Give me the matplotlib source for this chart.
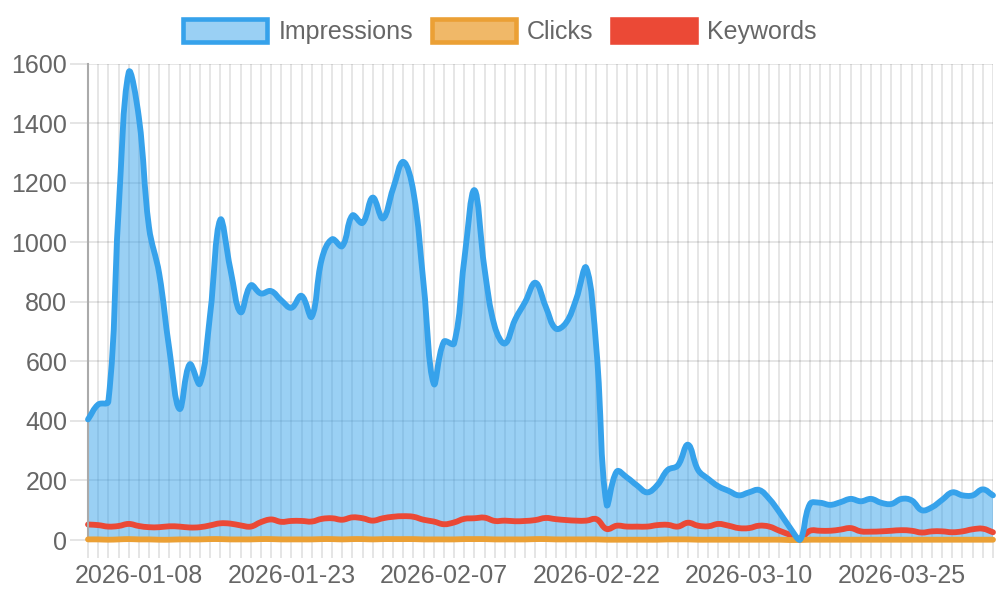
import numpy as np
import pandas as pd
import matplotlib
matplotlib.use('Agg')
import matplotlib.pyplot as plt
from matplotlib.path import Path
from matplotlib.patches import PathPatch, Patch

plt.rcParams['font.family'] = ['Liberation Sans', 'DejaVu Sans']

# one day is missing between 02-22 and 03-10 in the source data
dates = pd.date_range('2026-01-03', '2026-04-03').drop(pd.Timestamp('2026-03-01'))
date_labels = [d.strftime('%Y-%m-%d') for d in dates]

impressions = [405, 455, 465, 1100, 1570, 1420, 1050, 895, 640, 440,
               590, 525, 755, 1075, 910, 765, 855, 828, 836, 805,
               780, 820, 750, 945, 1010, 987, 1090, 1065, 1150, 1080,
               1180, 1270, 1170, 860, 525, 666, 660, 940, 1175, 910,
               717, 660, 740, 800, 864, 785, 710, 729, 808, 914,
               640, 120, 230, 210, 183, 160, 185, 235, 250, 320,
               235, 205, 180, 165, 150, 160, 168, 138, 93, 43,
               0, 121, 125, 118, 127, 138, 130, 138, 125, 121,
               138, 133, 100, 110, 135, 160, 150, 150, 170, 150]

clicks = [2, 2, 1, 2, 3, 2, 2, 1, 1, 2,
          2, 2, 3, 3, 2, 2, 2, 3, 3, 2,
          2, 2, 2, 3, 3, 2, 3, 3, 2, 3,
          3, 3, 3, 2, 2, 2, 2, 3, 3, 3,
          2, 2, 2, 2, 3, 3, 2, 2, 2, 2,
          2, 1, 1, 1, 1, 1, 1, 2, 2, 2,
          1, 1, 1, 1, 1, 1, 1, 1, 1, 0,
          0, 1, 1, 1, 1, 1, 1, 1, 1, 1,
          1, 1, 1, 1, 1, 1, 1, 1, 1, 1]

keywords = [52, 50, 45, 47, 54, 47, 43, 43, 46, 45,
            42, 43, 49, 56, 55, 49, 45, 60, 69, 61,
            64, 64, 62, 71, 73, 68, 76, 73, 65, 73,
            78, 80, 78, 68, 62, 53, 59, 71, 73, 75,
            64, 65, 63, 64, 67, 74, 70, 67, 65, 65,
            70, 37, 48, 45, 45, 45, 50, 51, 45, 58,
            48, 46, 54, 48, 40, 40, 48, 45, 31, 18,
            5, 31, 31, 31, 35, 40, 29, 28, 29, 31,
            33, 31, 25, 29, 29, 26, 29, 36, 38, 26]

blue = '#36A2EB'
orange = '#EBA035'
red = '#EB4936'
text_grey = '#666666'

fig = plt.figure(figsize=(10, 6), dpi=100)
ax = fig.add_axes([0.088, 0.1, 0.905, 0.794])
xs = np.arange(len(dates))
ax.set_xlim(0, len(dates) - 1)
ax.set_ylim(0, 1600)


def spline_path(xvals, yvals, t=0.4):
    # chart.js style bezier smoothing, done in pixel space
    pts = ax.transData.transform(np.column_stack([xvals, yvals]).astype(float))
    lo = ax.transData.transform((0, 0))
    hi = ax.transData.transform((len(dates) - 1, 1600))
    n = len(pts)
    cp_prev, cp_next = [], []
    for i in range(n):
        prev = pts[i - 1] if i > 0 else pts[i]
        cur = pts[i]
        nxt = pts[i + 1] if i < n - 1 else pts[i]
        d01 = np.hypot(*(cur - prev))
        d12 = np.hypot(*(nxt - cur))
        tot = d01 + d12
        s01 = d01 / tot if tot else 0
        s12 = d12 / tot if tot else 0
        a = np.clip(cur - t * s01 * (nxt - prev), lo, hi)
        b = np.clip(cur + t * s12 * (nxt - prev), lo, hi)
        cp_prev.append(a)
        cp_next.append(b)
    verts = [pts[0]]
    codes = [Path.MOVETO]
    for i in range(1, n):
        verts += [cp_next[i - 1], cp_prev[i], pts[i]]
        codes += [Path.CURVE4] * 3
    verts = ax.transData.inverted().transform(np.array(verts))
    return verts, codes


# grid
ax.set_yticks(range(0, 1601, 200))
ax.set_xticks(xs)
ax.set_xticklabels([lab if (i - 5) % 15 == 0 else '' for i, lab in enumerate(date_labels)])
ax.grid(True, color='black', alpha=0.1, lw=1.4)
ax.set_axisbelow(True)
ax.axhline(0, color='black', alpha=0.25, lw=1.4, zorder=0.5)
for s in ['top', 'right']:
    ax.spines[s].set_visible(False)
ax.spines['left'].set_color('#aaaaaa')
ax.spines['left'].set_linewidth(1.5)
ax.spines['bottom'].set_visible(False)
ax.tick_params(axis='both', length=13, width=1.4, color='#e5e5e5',
               labelcolor=text_grey, labelsize=18)
ax.tick_params(axis='y', pad=2)
ax.tick_params(axis='x', pad=4)

# impressions fill
v, c = spline_path(xs, impressions)
fill_verts = np.vstack([v, [[len(dates) - 1, 0], [0, 0], [0, 0]]])
fill_codes = c + [Path.LINETO, Path.LINETO, Path.CLOSEPOLY]
ax.add_patch(PathPatch(Path(fill_verts, fill_codes), facecolor=blue, alpha=0.5,
                       edgecolor='none', zorder=1))

for vals, col, z in [(keywords, red, 2), (clicks, orange, 3), (impressions, blue, 4)]:
    v, c = spline_path(xs, vals)
    ax.add_patch(PathPatch(Path(v, c), facecolor='none', edgecolor=col, lw=4.2,
                           capstyle='round', joinstyle='round', zorder=z, clip_on=False))

handles = [
    Patch(facecolor=(54/255, 162/255, 235/255, 0.5), edgecolor=blue, lw=3.3, label='Impressions'),
    Patch(facecolor=(235/255, 160/255, 53/255, 0.75), edgecolor=orange, lw=3.3, label='Clicks'),
    Patch(facecolor=red, edgecolor=red, lw=3.3, label='Keywords'),
]
leg = fig.legend(handles=handles, loc='center', bbox_to_anchor=(0.5, 0.947), ncol=3,
                 frameon=False, fontsize=18, handlelength=3.35, handleheight=1.0,
                 handletextpad=0.45, columnspacing=0.75, borderpad=0)
for txt in leg.get_texts():
    txt.set_color(text_grey)

fig.savefig('out.png', dpi=100)
